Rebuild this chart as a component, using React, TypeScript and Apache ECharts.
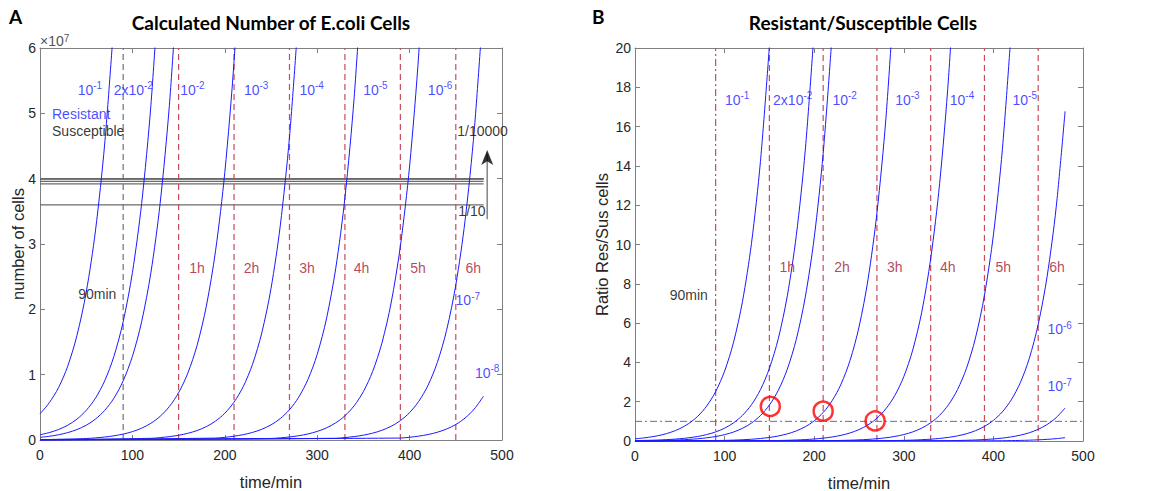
import React, { useEffect, useRef } from 'react';
import * as echarts from 'echarts';

const FONT = 'Liberation Sans, Arial, sans-serif';
const TITLE_FONT = 'Lato, sans-serif';
const BLUE = '#1a1aff';
const RED_LINE = '#c84a5c';
const RED_TEXT = '#a2142f';
const AXIS = '#808080';

// ---- Panel A: resistant cells (units of 1e7) ----
const leftR1 = [[0,0.4],[10,0.57],[20,0.8],[30,1.13],[40,1.6],[50,2.26],[60,3.2],[70,4.53],[80,6.4]];
const leftR2 = [[0,0.08],[10,0.113],[20,0.16],[30,0.226],[40,0.32],[50,0.453],[60,0.64],[70,0.905],[80,1.28],[90,1.81],[100,2.56],[110,3.62],[120,5.12],[130,7.24]];
const leftR3 = [[0,0.04],[10,0.057],[20,0.08],[30,0.113],[40,0.16],[50,0.226],[60,0.32],[70,0.453],[80,0.64],[90,0.905],[100,1.28],[110,1.81],[120,2.56],[130,3.62],[140,5.12],[150,7.24]];
const leftR4 = [[0,0.004],[50,0.0226],[60,0.032],[70,0.0453],[80,0.064],[90,0.0905],[100,0.128],[110,0.181],[120,0.256],[130,0.362],[140,0.512],[150,0.724],[160,1.024],[170,1.448],[180,2.048],[190,2.896],[200,4.096],[210,5.793],[220,8.19]];
const leftR5 = [[0,0.0004],[120,0.0256],[130,0.0362],[140,0.0512],[150,0.0724],[160,0.1024],[170,0.1448],[180,0.2048],[190,0.2896],[200,0.4096],[210,0.5793],[220,0.8192],[230,1.1585],[240,1.6384],[250,2.317],[260,3.2768],[270,4.6341],[280,6.5536]];
const leftR6 = [[0,0.00004],[190,0.029],[200,0.041],[210,0.0579],[220,0.0819],[230,0.1159],[240,0.1638],[250,0.2317],[260,0.3277],[270,0.4634],[280,0.6554],[290,0.9268],[300,1.3107],[310,1.8536],[320,2.6214],[330,3.7073],[340,5.2429],[350,7.4146]];
const leftR7 = [[0,0.000004],[250,0.0232],[260,0.0328],[270,0.0463],[280,0.0655],[290,0.0927],[300,0.1311],[310,0.1854],[320,0.2621],[330,0.3707],[340,0.5243],[350,0.7415],[360,1.0486],[370,1.4829],[380,2.0972],[390,2.9658],[400,4.1943],[410,5.9316],[420,8.3886]];
const leftR8 = [[0,0.0000004],[320,0.0262],[330,0.0371],[340,0.0524],[350,0.0741],[360,0.1049],[370,0.1483],[380,0.2097],[390,0.2966],[400,0.4194],[410,0.5932],[420,0.8389],[430,1.1863],[440,1.6777],[450,2.3727],[460,3.3554],[470,4.7453],[480,6.7109]];
const leftR9 = [[0,0.00000004],[390,0.0297],[400,0.0419],[410,0.0593],[420,0.0839],[430,0.1186],[440,0.1678],[450,0.2373],[460,0.3355],[470,0.4745],[480,0.6711]];
const leftResistant = [leftR1, leftR2, leftR3, leftR4, leftR5, leftR6, leftR7, leftR8, leftR9];

// susceptible levels (units of 1e7), constant from 0 to 480 min
const susceptibleLevels = [3.6, 3.92, 3.96, 3.996, 3.9996, 3.99996, 3.999996, 3.9999996, 3.99999996];
const susceptibleEnd = 480;

// ---- Panel B: resistant / susceptible ratio ----
const rightR1 = [[0,0.111],[10,0.157],[20,0.222],[30,0.314],[40,0.444],[50,0.629],[60,0.889],[70,1.257],[80,1.778],[90,2.514],[100,3.556],[110,5.028],[120,7.111],[130,10.06],[140,14.22],[150,20.11]];
const rightR2 = [[0,0.0204],[10,0.0289],[20,0.0408],[30,0.0577],[40,0.0816],[50,0.1154],[60,0.1633],[70,0.2309],[80,0.3265],[90,0.4618],[100,0.6531],[110,0.9236],[120,1.306],[130,1.847],[140,2.612],[150,3.694],[160,5.224],[170,7.388],[180,10.45],[190,14.78],[200,20.9]];
const rightR3 = [[0,0.0101],[10,0.0143],[20,0.0202],[30,0.0286],[40,0.0404],[50,0.0571],[60,0.0808],[70,0.1143],[80,0.1616],[90,0.2286],[100,0.3232],[110,0.4571],[120,0.6465],[130,0.9143],[140,1.293],[150,1.829],[160,2.586],[170,3.657],[180,5.172],[190,7.314],[200,10.34],[210,14.63],[220,20.69]];
const rightR4 = [[0,0.001],[40,0.004],[60,0.008],[70,0.0113],[80,0.016],[90,0.0226],[100,0.032],[110,0.0453],[120,0.0641],[130,0.0906],[140,0.1281],[150,0.1812],[160,0.2563],[170,0.3624],[180,0.5125],[190,0.7248],[200,1.025],[210,1.45],[220,2.05],[230,2.899],[240,4.1],[250,5.799],[260,8.2],[270,11.6],[280,16.4],[290,23.19]];
const rightR5 = [[0,0.0001],[130,0.0091],[140,0.0128],[150,0.0181],[160,0.0256],[170,0.0362],[180,0.0512],[190,0.0724],[200,0.1024],[210,0.1448],[220,0.2048],[230,0.2897],[240,0.4096],[250,0.5794],[260,0.8193],[270,1.1587],[280,1.6386],[290,2.3173],[300,3.2771],[310,4.6345],[320,6.5542],[330,9.2691],[340,13.108],[350,18.538],[360,26.217]];
const rightR6 = [[0,0.00001],[200,0.0102],[210,0.0145],[220,0.0205],[230,0.029],[240,0.041],[250,0.0579],[260,0.0819],[270,0.1159],[280,0.1638],[290,0.2317],[300,0.3277],[310,0.4634],[320,0.6554],[330,0.9268],[340,1.3107],[350,1.8536],[360,2.6214],[370,3.7073],[380,5.2429],[390,7.4146],[400,10.486],[410,14.829],[420,20.972]];
const rightR7 = [[0,0.000001],[270,0.0116],[280,0.0164],[290,0.0232],[300,0.0328],[310,0.0463],[320,0.0655],[330,0.0927],[340,0.1311],[350,0.1854],[360,0.2621],[370,0.3707],[380,0.5243],[390,0.7415],[400,1.0486],[410,1.4829],[420,2.0972],[430,2.9658],[440,4.1943],[450,5.9316],[460,8.3886],[470,11.863],[480,16.777]];
const rightR8 = [[0,0.0000001],[340,0.0131],[350,0.0185],[360,0.0262],[370,0.0371],[380,0.0524],[390,0.0741],[400,0.1049],[410,0.1483],[420,0.2097],[430,0.2966],[440,0.4194],[450,0.5932],[460,0.8389],[470,1.1863],[480,1.6777]];
const rightR9 = [[0,0.00000001],[400,0.0105],[410,0.0148],[420,0.021],[430,0.0297],[440,0.0419],[450,0.0593],[460,0.0839],[470,0.1186],[480,0.1678]];
const rightRatios = [rightR1, rightR2, rightR3, rightR4, rightR5, rightR6, rightR7, rightR8, rightR9];

const ratioThreshold = 1;
const circledPoints = [[151, 1.76], [210, 1.52], [268, 1.02]];

// time markers
const startMark = 90;
const hourMarks = [150, 210, 270, 330, 390, 450];
const hourLabels = ['1h', '2h', '3h', '4h', '5h', '6h'];

// arrow (panel A)
const arrowX = 484;
const arrowFrom = 3.38;
const arrowTo = 4.38;
const arrowHead = 4.44;

// text annotations: [x, y, rich text]
const leftFractionLabels: [number, number, string][] = [
  [54, 5.36, '{n|10}{s|-1}'],
  [101, 5.36, '{n|2x10}{s|-2}'],
  [165, 5.36, '{n|10}{s|-2}'],
  [234, 5.36, '{n|10}{s|-3}'],
  [294, 5.36, '{n|10}{s|-4}'],
  [363, 5.36, '{n|10}{s|-5}'],
  [433, 5.36, '{n|10}{s|-6}'],
  [463, 2.14, '{n|10}{s|-7}'],
  [484, 1.03, '{n|10}{s|-8}'],
];
const rightFractionLabels: [number, number, string][] = [
  [114, 17.36, '{n|10}{s|-1}'],
  [176, 17.36, '{n|2x10}{s|-2}'],
  [234, 17.36, '{n|10}{s|-2}'],
  [304, 17.36, '{n|10}{s|-3}'],
  [365, 17.36, '{n|10}{s|-4}'],
  [435, 17.36, '{n|10}{s|-5}'],
  [474, 5.68, '{n|10}{s|-6}'],
  [474, 2.78, '{n|10}{s|-7}'],
];
const leftHourLabelPos = [170, 229, 289, 348, 409, 469];
const leftHourLabelY = 2.63;
const rightHourLabelPos = [170, 231, 290, 349, 411, 471];
const rightHourLabelY = 8.83;

function axisBase(extra: any) {
  return {
    type: 'value',
    axisLine: { show: true, onZero: false, lineStyle: { color: AXIS, width: 1 } },
    axisTick: { show: true, inside: true, length: 5, lineStyle: { color: AXIS } },
    splitLine: { show: false },
    axisLabel: { color: '#262626', fontSize: 14, fontFamily: FONT },
    nameTextStyle: { color: '#262626', fontSize: 16.5, fontFamily: FONT },
    nameMoveOverlap: false,
    ...extra,
  };
}

const yLabel = { color: '#262626', fontSize: 14, fontFamily: FONT, margin: 4 };

function curveSeries(data: number[][], idx: number) {
  return {
    type: 'line',
    xAxisIndex: idx,
    yAxisIndex: idx,
    data,
    symbol: 'none',
    smooth: 0.3,
    clip: true,
    lineStyle: { color: BLUE, width: 1 },
    silent: true,
    z: 3,
  };
}

function vline(x: number, top: number, idx: number, color: string, type: any) {
  return {
    type: 'line',
    xAxisIndex: idx,
    yAxisIndex: idx,
    data: [[x, 0], [x, top]],
    symbol: 'none',
    lineStyle: { color, width: 1.2, type },
    silent: true,
    z: 2,
  };
}

function textSeries(items: [number, number, string][], idx: number, color: string, align = 'center') {
  return {
    type: 'scatter',
    xAxisIndex: idx,
    yAxisIndex: idx,
    symbolSize: 0,
    silent: true,
    z: 5,
    data: items.map((it) => ({ value: [it[0], it[1]], name: it[2] })),
    label: {
      show: true,
      position: 'inside',
      align,
      formatter: (p: any) => p.name,
      color,
      fontSize: 14,
      fontFamily: FONT,
      rich: {
        n: { fontSize: 14, fontFamily: FONT, color, lineHeight: 18 },
        s: { fontSize: 10, fontFamily: FONT, color, verticalAlign: 'top', lineHeight: 18, padding: [0, 0, 6, 0] },
      },
    },
  };
}

const option: any = {
  animation: false,
  backgroundColor: '#ffffff',
  grid: [
    { left: 40, top: 48, width: 462, height: 392, outerBoundsMode: 'none', containLabel: false },
    { left: 635, top: 48, width: 448, height: 393, outerBoundsMode: 'none', containLabel: false },
  ],
  xAxis: [
    axisBase({ gridIndex: 0, min: 0, max: 500, interval: 100, position: 'bottom', name: 'time/min', nameLocation: 'middle', nameGap: 33 }),
    axisBase({ gridIndex: 1, min: 0, max: 500, interval: 100, position: 'bottom', name: 'time/min', nameLocation: 'middle', nameGap: 33 }),
    axisBase({ gridIndex: 0, min: 0, max: 500, interval: 100, position: 'top', axisLabel: { show: false } }),
    axisBase({ gridIndex: 1, min: 0, max: 500, interval: 100, position: 'top', axisLabel: { show: false } }),
  ],
  yAxis: [
    axisBase({ gridIndex: 0, min: 0, max: 6, interval: 1, position: 'left', name: 'number of cells', nameLocation: 'middle', nameGap: 14, axisLabel: yLabel }),
    axisBase({ gridIndex: 1, min: 0, max: 20, interval: 2, position: 'left', name: 'Ratio Res/Sus cells', nameLocation: 'middle', nameGap: 25, axisLabel: yLabel }),
    axisBase({ gridIndex: 0, min: 0, max: 6, interval: 1, position: 'right', axisLabel: { show: false } }),
    axisBase({ gridIndex: 1, min: 0, max: 20, interval: 2, position: 'right', axisLabel: { show: false } }),
  ],
  series: [] as any[],
  graphic: [
    { type: 'text', x: 9, y: 7, style: { text: 'A', fontSize: 19, fontWeight: 'bold', fontFamily: TITLE_FONT, fill: '#000' } },
    { type: 'text', x: 592, y: 7, style: { text: 'B', fontSize: 19, fontWeight: 'bold', fontFamily: TITLE_FONT, fill: '#000' } },
    { type: 'text', x: 271, y: 22, style: { text: 'Calculated Number of E.coli Cells', fontSize: 19, fontWeight: 'bold', fontFamily: TITLE_FONT, fill: '#000', align: 'center', verticalAlign: 'middle' } },
    { type: 'text', x: 863, y: 22, style: { text: 'Resistant/Susceptible Cells', fontSize: 19, fontWeight: 'bold', fontFamily: TITLE_FONT, fill: '#000', align: 'center', verticalAlign: 'middle' } },
    { type: 'text', x: 40, y: 41, style: { text: '×10{s|7}', fontSize: 14, fontFamily: FONT, fill: '#555', verticalAlign: 'middle', rich: { s: { fontSize: 10, fontFamily: FONT, fill: '#555', verticalAlign: 'top', padding: [0, 0, 6, 0] } } } },
  ],
};

// Panel A series
leftResistant.forEach((d) => option.series.push(curveSeries(d, 0)));
susceptibleLevels.forEach((lv) => option.series.push({
  type: 'line', xAxisIndex: 0, yAxisIndex: 0, data: [[0, lv], [susceptibleEnd, lv]], symbol: 'none',
  lineStyle: { color: '#6a6a6a', width: 1.2 }, silent: true, z: 2,
}));
option.series.push(vline(startMark, 6, 0, '#707070', [6, 4]));
hourMarks.forEach((h) => option.series.push(vline(h, 6, 0, RED_LINE, [6, 4])));
option.series.push({
  type: 'line', xAxisIndex: 0, yAxisIndex: 0, data: [[arrowX, arrowFrom], [arrowX, arrowTo]], symbol: 'none',
  lineStyle: { color: '#8a8a8a', width: 1.6 }, silent: true, z: 4,
});
option.series.push({
  type: 'scatter', xAxisIndex: 0, yAxisIndex: 0, data: [[arrowX, arrowHead]], symbol: 'arrow', symbolSize: [9, 15],
  itemStyle: { color: '#000' }, silent: true, z: 5,
});
option.series.push(textSeries(leftFractionLabels, 0, BLUE));
option.series.push(textSeries([[13, 4.99, 'Resistant']], 0, BLUE, 'left'));
option.series.push(textSeries([[13, 4.73, 'Susceptible']], 0, '#000', 'left'));
option.series.push(textSeries([[479, 4.73, '1/10000'], [467.5, 3.5, '1/10']], 0, '#000'));
option.series.push(textSeries([[62, 2.24, '90min']], 0, '#000'));
option.series.push(textSeries(hourLabels.map((t, i) => [leftHourLabelPos[i], leftHourLabelY, t] as [number, number, string]), 0, RED_TEXT));

// Panel B series
rightRatios.forEach((d) => option.series.push(curveSeries(d, 1)));
option.series.push({
  type: 'line', xAxisIndex: 1, yAxisIndex: 1, data: [[0, ratioThreshold], [500, ratioThreshold]], symbol: 'none',
  lineStyle: { color: '#707070', width: 1, type: [7, 3, 2, 3] }, silent: true, z: 2,
});
option.series.push(vline(startMark, 20, 1, RED_LINE, [7, 3, 2, 3]));
hourMarks.forEach((h) => option.series.push(vline(h, 20, 1, RED_LINE, [6, 4])));
option.series.push({
  type: 'scatter', xAxisIndex: 1, yAxisIndex: 1, data: circledPoints, symbol: 'circle', symbolSize: 19,
  itemStyle: { color: 'rgba(0,0,0,0)', borderColor: '#ff0000', borderWidth: 2.5 }, silent: true, z: 6,
});
option.series.push(textSeries(rightFractionLabels, 1, BLUE));
option.series.push(textSeries([[60, 7.45, '90min']], 1, '#000'));
option.series.push(textSeries(hourLabels.map((t, i) => [rightHourLabelPos[i], rightHourLabelY, t] as [number, number, string]), 1, RED_TEXT));

export default function App() {
  const ref = useRef<HTMLDivElement>(null);
  useEffect(() => {
    const chart = echarts.init(ref.current!, null, { renderer: 'svg' });
    chart.setOption(option);
    return () => chart.dispose();
  }, []);
  return <div ref={ref} style={{ position: 'fixed', left: 0, top: 0, width: 1161, height: 491, background: '#fff' }} />;
}
